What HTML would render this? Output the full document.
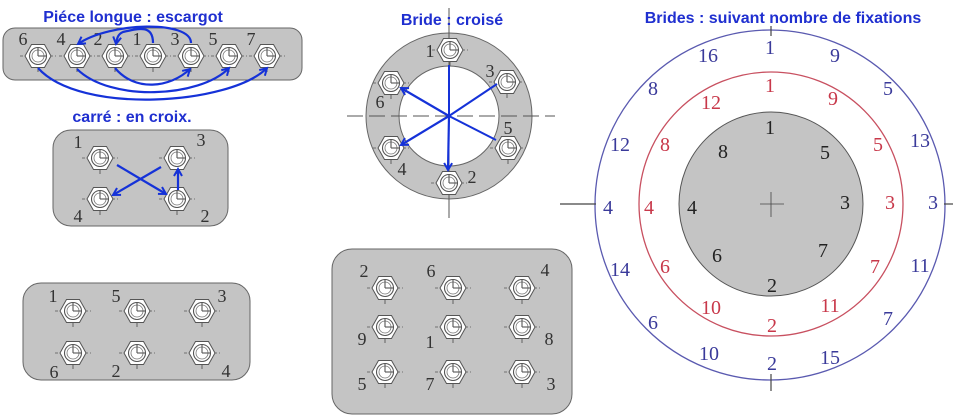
<!DOCTYPE html>
<html><head><meta charset="utf-8"><style>
html,body{margin:0;padding:0;background:#fff;}
svg{display:block;}
.n{font-family:"Liberation Serif","DejaVu Serif",serif;font-size:18px;fill:#333;text-anchor:middle;}
.t{font-family:"Liberation Sans",sans-serif;font-size:16px;font-weight:bold;fill:#1f2fd0;text-anchor:middle;}
.b{fill:#3a3a9a}.r{fill:#c8384a}.k{fill:#222}
.c{font-family:"Liberation Serif","DejaVu Serif",serif;font-size:20px;text-anchor:middle;}
.ar{stroke:#1532d8;stroke-width:2.2;fill:none;marker-end:url(#ah);}
</style></head><body>
<svg width="953" height="417" viewBox="0 0 953 417" xmlns="http://www.w3.org/2000/svg">
<defs>
<marker id="ah" markerWidth="10" markerHeight="10" refX="8" refY="5" orient="auto" markerUnits="userSpaceOnUse"><path d="M1,1 L8,5 L1,9" fill="none" stroke="#1532d8" stroke-width="2"/></marker>
<g id="bolt">
<line x1="-18" y1="0" x2="18" y2="0" stroke="#555" stroke-width="0.8" stroke-dasharray="3,2"/>
<line x1="0" y1="-3" x2="0" y2="16" stroke="#555" stroke-width="0.9"/>
<polygon points="-13,0 -6.5,-11.5 6.5,-11.5 13,0 6.5,11.5 -6.5,11.5" fill="#fff" stroke="#555" stroke-width="1"/>
<circle r="8.5" fill="#fff" stroke="#555" stroke-width="1.1"/>
<circle r="6" fill="none" stroke="#777" stroke-width="0.8"/>
<line x1="0" y1="-9" x2="0" y2="0" stroke="#555" stroke-width="1.1"/>
<line x1="0" y1="0" x2="8" y2="0" stroke="#555" stroke-width="1.1"/>
</g>
</defs>

<text class="t" x="133" y="22">Piéce longue : escargot</text>
<rect x="3" y="28" width="299" height="52" rx="12" fill="#c4c4c4" stroke="#666" stroke-width="1"/>
<g>
<use href="#bolt" x="38" y="56"/><use href="#bolt" x="77" y="56"/><use href="#bolt" x="115" y="56"/>
<use href="#bolt" x="153" y="56"/><use href="#bolt" x="191" y="56"/><use href="#bolt" x="229" y="56"/><use href="#bolt" x="267" y="56"/>
</g>
<text class="n" x="23" y="45">6</text><text class="n" x="61" y="45">4</text><text class="n" x="98" y="45">2</text>
<text class="n" x="137" y="45">1</text><text class="n" x="175" y="45">3</text><text class="n" x="213" y="45">5</text><text class="n" x="251" y="45">7</text>
<path class="ar" d="M153,43 C153,25 140,28 123,32 C118,34 117,38 116,44"/>
<path class="ar" d="M191,43 C191,20 110,22 78,44"/>
<path class="ar" d="M115,68 C135,92 170,88 190,69"/>
<path class="ar" d="M77,69 C110,102 200,98 229,68"/>
<path class="ar" d="M38,68 C80,115 230,105 267,68"/>

<text class="t" x="132" y="122">carré : en croix.</text>
<rect x="53" y="130" width="175" height="96" rx="18" fill="#c4c4c4" stroke="#666" stroke-width="1"/>
<use href="#bolt" x="100" y="158"/><use href="#bolt" x="177" y="158"/><use href="#bolt" x="100" y="199"/><use href="#bolt" x="177" y="199"/>
<text class="n" x="78" y="148">1</text><text class="n" x="201" y="146">3</text><text class="n" x="78" y="222">4</text><text class="n" x="205" y="222">2</text>
<path class="ar" d="M117,165 L166,194"/>
<path class="ar" d="M178,190 L178,169"/>
<path class="ar" d="M161,167 L113,195"/>

<rect x="23" y="283" width="227" height="97" rx="18" fill="#c4c4c4" stroke="#666" stroke-width="1"/>
<use href="#bolt" x="73" y="311"/><use href="#bolt" x="137" y="311"/><use href="#bolt" x="202" y="311"/>
<use href="#bolt" x="73" y="353"/><use href="#bolt" x="137" y="353"/><use href="#bolt" x="202" y="353"/>
<text class="n" x="53" y="302">1</text><text class="n" x="116" y="302">5</text><text class="n" x="222" y="302">3</text>
<text class="n" x="54" y="378">6</text><text class="n" x="116" y="377">2</text><text class="n" x="226" y="377">4</text>

<rect x="332" y="249" width="240" height="165" rx="20" fill="#c4c4c4" stroke="#666" stroke-width="1"/>
<use href="#bolt" x="385" y="288"/><use href="#bolt" x="453" y="288"/><use href="#bolt" x="522" y="288"/>
<use href="#bolt" x="385" y="327"/><use href="#bolt" x="453" y="327"/><use href="#bolt" x="522" y="327"/>
<use href="#bolt" x="385" y="372"/><use href="#bolt" x="453" y="372"/><use href="#bolt" x="522" y="372"/>
<text class="n" x="364" y="277">2</text><text class="n" x="431" y="277">6</text><text class="n" x="545" y="276">4</text>
<text class="n" x="362" y="345">9</text><text class="n" x="430" y="348">1</text><text class="n" x="549" y="345">8</text>
<text class="n" x="362" y="390">5</text><text class="n" x="430" y="390">7</text><text class="n" x="551" y="390">3</text>

<circle cx="449" cy="116" r="83" fill="#c4c4c4" stroke="#666" stroke-width="1"/>
<circle cx="449" cy="116" r="50" fill="#fff" stroke="#666" stroke-width="1"/>
<line x1="449" y1="8" x2="449" y2="218" stroke="#555" stroke-width="1"/>
<line x1="347" y1="116" x2="555" y2="116" stroke="#555" stroke-width="1" stroke-dasharray="16,6"/>
<use href="#bolt" x="450" y="50"/><use href="#bolt" x="507" y="82"/><use href="#bolt" x="508" y="148"/>
<use href="#bolt" x="449" y="183"/><use href="#bolt" x="391" y="148"/><use href="#bolt" x="391" y="83"/>
<text class="n" x="430" y="57">1</text><text class="n" x="490" y="77">3</text><text class="n" x="508" y="134">5</text>
<text class="n" x="472" y="183">2</text><text class="n" x="402" y="175">4</text><text class="n" x="380" y="108">6</text>
<text class="t" x="452" y="25">Bride : croisé</text>
<g stroke="#1532d8" stroke-width="2" fill="none">
<line x1="449" y1="65" x2="449" y2="116"/>
<line x1="497" y1="84" x2="449" y2="116"/>
<line x1="496" y1="140" x2="449" y2="116"/>
</g>
<path class="ar" d="M449,116 L401,88"/>
<path class="ar" d="M449,116 L401,145"/>
<path class="ar" d="M449,116 L448,170"/>

<text class="t" x="783" y="23">Brides : suivant nombre de fixations</text>
<circle cx="770" cy="205" r="175" fill="none" stroke="#5a5ab0" stroke-width="1.3"/>
<circle cx="771" cy="204" r="132" fill="none" stroke="#c85060" stroke-width="1.3"/>
<circle cx="771" cy="204" r="92" fill="#c4c4c4" stroke="#555" stroke-width="1"/>
<g stroke="#444" stroke-width="1.2">
<line x1="560" y1="204" x2="596" y2="204"/><line x1="944" y1="204" x2="953" y2="204"/>
<line x1="771" y1="26" x2="771" y2="36"/><line x1="771" y1="374" x2="771" y2="391"/>
<line x1="760" y1="204" x2="784" y2="204" stroke-width="0.8"/><line x1="771" y1="192" x2="771" y2="217" stroke-width="0.8"/>
</g>
<g class="c b">
<text x="770" y="54">1</text><text x="708" y="62">16</text><text x="835" y="62">9</text>
<text x="653" y="95">8</text><text x="888" y="95">5</text>
<text x="620" y="151">12</text><text x="920" y="147">13</text>
<text x="608" y="214">4</text><text x="933" y="209">3</text>
<text x="620" y="276">14</text><text x="920" y="272">11</text>
<text x="653" y="329">6</text><text x="888" y="325">7</text>
<text x="709" y="360">10</text><text x="830" y="364">15</text><text x="772" y="370">2</text>
</g>
<g class="c r">
<text x="770" y="92">1</text><text x="711" y="109">12</text><text x="833" y="105">9</text>
<text x="665" y="151">8</text><text x="878" y="151">5</text>
<text x="649" y="214">4</text><text x="890" y="209">3</text>
<text x="665" y="273">6</text><text x="875" y="273">7</text>
<text x="711" y="314">10</text><text x="830" y="312">11</text><text x="772" y="332">2</text>
</g>
<g class="c k">
<text x="770" y="134">1</text><text x="723" y="158">8</text><text x="825" y="159">5</text>
<text x="692" y="214">4</text><text x="845" y="209">3</text>
<text x="717" y="262">6</text><text x="823" y="257">7</text><text x="772" y="292">2</text>
</g>
</svg>
</body></html>
